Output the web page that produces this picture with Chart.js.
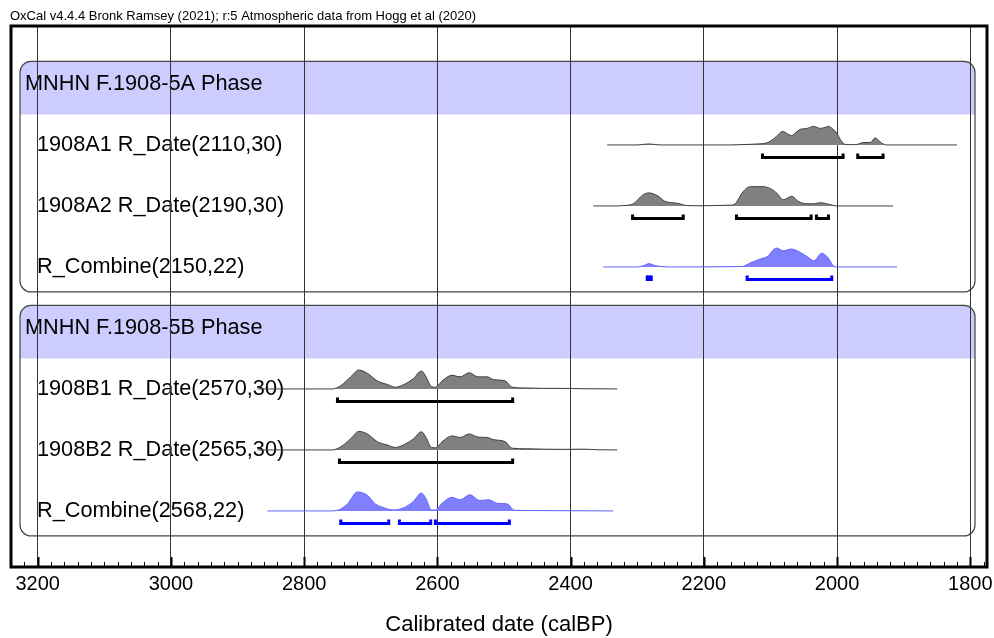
<!DOCTYPE html>
<html>
<head>
<meta charset="utf-8">
<script src="https://cdn.jsdelivr.net/npm/chart.js@4.4.0/dist/chart.umd.min.js"></script>
<style>
  body { margin: 0; background: #fff; }
  #wrap { width: 994px; height: 638px; }
</style>
</head>
<body>
<div id="wrap"><canvas id="oxcal" width="994" height="638"></canvas></div>
<script>
// ---- data (years calBP, relative probability 0-100) ----
const headerText = 'OxCal v4.4.4 Bronk Ramsey (2021); r:5 Atmospheric data from Hogg et al (2020)';
const axisTitle = 'Calibrated date (calBP)';
const tickYears = [3200, 3000, 2800, 2600, 2400, 2200, 2000, 1800];

const phaseNames = ['MNHN F.1908-5A Phase', 'MNHN F.1908-5B Phase'];
const rowNames = [
  '1908A1 R_Date(2110,30)', '1908A2 R_Date(2190,30)', 'R_Combine(2150,22)',
  '1908B1 R_Date(2570,30)', '1908B2 R_Date(2565,30)', 'R_Combine(2568,22)'
];

const a1Years = [2345, 2300, 2290, 2283, 2275, 2265, 2200, 2160, 2141, 2120, 2105, 2095, 2081, 2075, 2068, 2062, 2055, 2045, 2035, 2025, 2018, 2013, 2006, 2000, 1995, 1988, 1978, 1970, 1961, 1950, 1943, 1933, 1925, 1820];
const a1Prob  = [0, 0, 3, 5, 3, 0, 0, 0, 2, 5, 11, 32, 69, 58, 48, 64, 80, 85, 95, 85, 90, 95, 80, 58, 27, 3, 2, 3, 12, 13, 36, 9, 0, 0];
const a1Ranges = [[2112, 1991], [1969, 1931]];

const a2Years = [2366, 2330, 2321, 2306, 2291, 2282, 2270, 2258, 2240, 2225, 2201, 2171, 2160, 2153, 2141, 2130, 2111, 2098, 2090, 2081, 2068, 2058, 2045, 2035, 2025, 2013, 2000, 1916];
const a2Prob  = [0, 0, 2, 11, 58, 67, 53, 23, 14, 2, 1, 3, 4, 11, 74, 99, 99, 85, 64, 32, 49, 23, 11, 11, 17, 9, 0, 0];
const a2Ranges = [[2307, 2231], [2151, 2039], [2031, 2013]];

const caYears = [2351, 2300, 2292, 2282, 2274, 2266, 2250, 2143, 2130, 2115, 2105, 2091, 2081, 2069, 2055, 2045, 2035, 2023, 2015, 2003, 1910];
const caProb  = [0, 0, 5, 17, 8, 3, 0, 2, 21, 41, 53, 97, 83, 92, 74, 53, 32, 70, 53, 0, 0];
const caRanges = [[2285, 2279], [2135, 2008]];

const b1Years = [2870, 2758, 2745, 2730, 2718, 2705, 2690, 2675, 2663, 2650, 2636, 2624, 2617, 2609, 2603, 2593, 2578, 2566, 2552, 2539, 2525, 2516, 2498, 2488, 2465, 2441, 2415, 2380, 2330];
const b1Prob  = [0, 0, 17, 62, 97, 80, 41, 23, 9, 23, 53, 92, 62, 12, 9, 41, 70, 62, 83, 62, 62, 48, 41, 9, 5, 3, 3, 1, 0];
const b1Ranges = [[2750, 2487]];

const b2Years = [2870, 2758, 2745, 2730, 2718, 2705, 2690, 2675, 2663, 2650, 2636, 2624, 2617, 2609, 2603, 2593, 2578, 2566, 2552, 2539, 2525, 2516, 2498, 2488, 2465, 2441, 2415, 2381, 2360, 2330];
const b2Prob  = [0, 0, 16, 58, 95, 82, 42, 25, 13, 27, 56, 93, 64, 13, 11, 42, 72, 64, 82, 66, 64, 53, 42, 9, 6, 4, 3, 4, 1, 0];
const b2Ranges = [[2747, 2487]];

const cbYears = [2855, 2760, 2750, 2735, 2720, 2705, 2693, 2680, 2666, 2650, 2636, 2624, 2617, 2609, 2603, 2593, 2578, 2566, 2551, 2536, 2523, 2510, 2495, 2485, 2460, 2336];
const cbProb  = [0, 0, 3, 36, 97, 80, 36, 16, 5, 17, 49, 92, 62, 5, 5, 39, 70, 57, 83, 53, 58, 39, 36, 4, 2, 0];
const cbRanges = [[2745, 2673], [2657, 2610], [2603, 2492]];

// ---- layout (row units on a hidden y scale, 61px per row) ----
const ROW_PX = 61;
const PEAK = 19.5 / ROW_PX;     // height of a 100% peak
const BRACKET_OFF = 12.5 / ROW_PX;
const BRACKET_TICK = 4 / ROW_PX;
const BASE_OFF = 0.95;

const GREY = { fill: 'rgb(128,128,128)', line: '#404040', range: '#000000' };
const BLUE = { fill: 'rgb(128,128,255)', line: '#6464ff', range: '#0000ff' };

const rows = [
  { slot: 1, years: a1Years, prob: a1Prob, ranges: a1Ranges, col: GREY },
  { slot: 2, years: a2Years, prob: a2Prob, ranges: a2Ranges, col: GREY },
  { slot: 3, years: caYears, prob: caProb, ranges: caRanges, col: BLUE },
  { slot: 5, years: b1Years, prob: b1Prob, ranges: b1Ranges, col: GREY },
  { slot: 6, years: b2Years, prob: b2Prob, ranges: b2Ranges, col: GREY },
  { slot: 7, years: cbYears, prob: cbProb, ranges: cbRanges, col: BLUE }
];
const phases = [{ slot: 0, last: 3 }, { slot: 4, last: 7 }];

const datasets = [];
rows.forEach(r => {
  const base = r.slot + BASE_OFF;
  datasets.push({
    data: r.years.map((yr, i) => ({ x: yr, y: base - r.prob[i] / 100 * PEAK })),
    borderColor: r.col.line,
    borderWidth: 1,
    backgroundColor: r.col.fill,
    fill: { value: base },
    pointRadius: 0,
    cubicInterpolationMode: 'monotone'
  });
  const by = base + BRACKET_OFF;
  r.ranges.forEach(([s, e]) => {
    datasets.push({
      data: [{ x: s, y: by - BRACKET_TICK }, { x: s, y: by }, { x: e, y: by }, { x: e, y: by - BRACKET_TICK }],
      borderColor: r.col.range,
      backgroundColor: r.col.range,
      borderWidth: 3,
      borderJoinStyle: 'miter',
      borderCapStyle: 'butt',
      // very short ranges show as a solid block
      fill: s - e < 10 ? { value: by - BRACKET_TICK } : false,
      pointRadius: 0,
      tension: 0
    });
  });
});

function roundRectPath(ctx, x, y, w, h, r) {
  ctx.beginPath();
  ctx.moveTo(x + r, y);
  ctx.lineTo(x + w - r, y);
  ctx.arcTo(x + w, y, x + w, y + r, r);
  ctx.lineTo(x + w, y + h - r);
  ctx.arcTo(x + w, y + h, x + w - r, y + h, r);
  ctx.lineTo(x + r, y + h);
  ctx.arcTo(x, y + h, x, y + h - r, r);
  ctx.lineTo(x, y + r);
  ctx.arcTo(x, y, x + r, y, r);
  ctx.closePath();
}

const FONT = 'Arial, "Liberation Sans", sans-serif';

const oxcalDecor = {
  id: 'oxcalDecor',
  beforeDraw(chart) {
    const { ctx, chartArea: a, scales: { y } } = chart;
    ctx.save();
    ctx.fillStyle = '#fff';
    ctx.fillRect(0, 0, chart.width, chart.height);

    ctx.fillStyle = '#000';
    ctx.font = '13px ' + FONT;
    ctx.textBaseline = 'alphabetic';
    ctx.fillText(headerText, 10, 20);

    phases.forEach((p, i) => {
      const top = y.getPixelForValue(p.slot + 0.58);
      const bottom = y.getPixelForValue(p.last + BASE_OFF + 0.41);
      const bandBottom = y.getPixelForValue(p.slot + 1.45);
      const x0 = a.left + 9, x1 = a.right - 12;
      ctx.save();
      roundRectPath(ctx, x0, top, x1 - x0, bottom - top, 11);
      ctx.clip();
      ctx.fillStyle = 'rgb(204,204,255)';
      ctx.fillRect(x0, top, x1 - x0, bandBottom - top);
      ctx.restore();
      roundRectPath(ctx, x0, top, x1 - x0, bottom - top, 11);
      ctx.strokeStyle = '#444';
      ctx.lineWidth = 1.2;
      ctx.stroke();

      ctx.fillStyle = '#000';
      ctx.font = '21.7px ' + FONT;
      ctx.textBaseline = 'middle';
      ctx.fillText(phaseNames[i], a.left + 14, y.getPixelForValue(p.slot + BASE_OFF));
    });

    rows.forEach((r, i) => {
      ctx.fillStyle = '#000';
      ctx.font = '21.7px ' + FONT;
      ctx.textBaseline = 'middle';
      ctx.fillText(rowNames[i], a.left + 26, y.getPixelForValue(r.slot + BASE_OFF));
    });
    ctx.restore();
  },
  afterDraw(chart) {
    const { ctx, chartArea: a, scales: { x } } = chart;
    ctx.save();
    ctx.strokeStyle = '#000';
    for (let v = 1780; v <= 3240; v += 20) {
      const px = Math.round(x.getPixelForValue(v)) + 0.5;
      const major = v % 200 === 0;
      ctx.lineWidth = major ? 2 : 1;
      ctx.beginPath();
      ctx.moveTo(px, a.bottom);
      ctx.lineTo(px, a.bottom - (major ? 10 : 5));
      ctx.stroke();
    }
    ctx.lineWidth = 3;
    ctx.strokeRect(a.left, a.top, a.right - a.left, a.bottom - a.top);
    ctx.restore();
  }
};

Chart.defaults.font.family = FONT;
Chart.defaults.color = '#000';

new Chart(document.getElementById('oxcal'), {
  type: 'line',
  data: { datasets },
  options: {
    responsive: false,
    devicePixelRatio: 1,
    animation: false,
    events: [],
    layout: { padding: { left: 11, top: 26, right: 7, bottom: 0 } },
    plugins: { legend: { display: false }, tooltip: { enabled: false } },
    scales: {
      x: {
        type: 'linear',
        reverse: true,
        min: 1775,
        max: 3240,
        afterBuildTicks: s => { s.ticks = tickYears.map(v => ({ value: v })); },
        afterFit: s => { s.height = 71; s.paddingLeft = 0; s.paddingRight = 0; },
        grid: { color: '#333', lineWidth: 1, drawTicks: false },
        border: { display: false },
        ticks: { font: { size: 20 }, padding: 5, maxRotation: 0, autoSkip: false, color: '#000', callback: v => String(v) },
        title: { display: true, text: axisTitle, font: { size: 22, lineHeight: 1.2 }, padding: { top: 0, bottom: 0 }, color: '#000' }
      },
      y: {
        type: 'linear',
        display: false,
        reverse: true,
        min: 0,
        max: 541 / ROW_PX
      }
    }
  },
  plugins: [oxcalDecor]
});
</script>
</body>
</html>
